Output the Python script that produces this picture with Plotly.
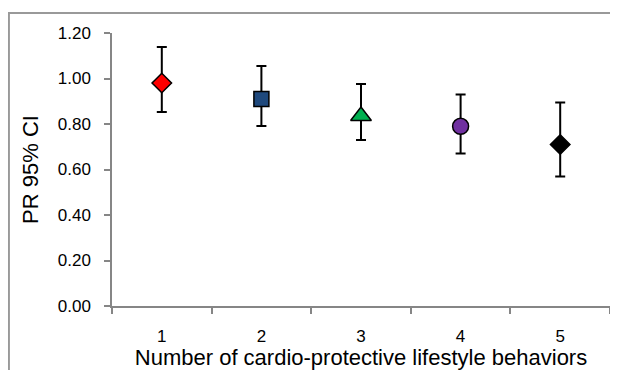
import plotly.graph_objects as go

categories = ["1", "2", "3", "4", "5"]
pr = [0.98, 0.91, 0.835, 0.79, 0.71]
ci_low = [0.853, 0.791, 0.73, 0.67, 0.569]
ci_high = [1.138, 1.055, 0.976, 0.93, 0.894]
symbols = ["diamond", "square", "triangle-up", "circle", "diamond"]
colors = ["#ff0000", "#1f497d", "#00b050", "#7030a0", "#000000"]
sizes = [15, 15, 18, 16, 15]
y_ticks = [0.0, 0.2, 0.4, 0.6, 0.8, 1.0, 1.2]
y_ticklabels = ["0.00", "0.20", "0.40", "0.60", "0.80", "1.00", "1.20"]

err_plus = [h - v for h, v in zip(ci_high, pr)]
err_minus = [v - l for l, v in zip(ci_low, pr)]

FONT = "Liberation Sans, Arial, sans-serif"

fig = go.Figure()
for i, c in enumerate(categories):
    fig.add_trace(go.Scatter(
        x=[c], y=[pr[i]], mode="markers",
        marker=dict(symbol=symbols[i], color=colors[i], size=sizes[i],
                    line=dict(color="#000000", width=1.5)),
        error_y=dict(type="data", symmetric=False, array=[err_plus[i]],
                     arrayminus=[err_minus[i]], color="#000000",
                     thickness=2, width=5),
        showlegend=False, cliponaxis=False,
    ))

fig.update_layout(
    width=602, height=362,
    margin=dict(l=104, r=0, t=25, b=64, autoexpand=False),
    paper_bgcolor="white", plot_bgcolor="white",
    font=dict(family=FONT, color="#000000"),
    xaxis=dict(
        type="category", categoryorder="array", categoryarray=categories,
        range=[-0.5, 4.5], showgrid=False, zeroline=False,
        showline=True, linecolor="#868686", linewidth=1.5,
        ticks="outside", tickson="boundaries", ticklen=6, tickcolor="#868686",
        tickwidth=1.5, tickfont=dict(size=17, family=FONT),
        ticklabelstandoff=14, automargin=False,
        title=dict(text="Number of cardio-protective lifestyle behaviors",
                   font=dict(size=22, family=FONT), standoff=0),
    ),
    yaxis=dict(
        range=[0, 1.2], tickvals=y_ticks, ticktext=y_ticklabels,
        showgrid=False, zeroline=False,
        showline=True, linecolor="#868686", linewidth=1.5,
        ticks="outside", ticklen=6, tickcolor="#868686", tickwidth=1.5,
        tickfont=dict(size=17, family=FONT), ticklabelstandoff=10,
        automargin=False,
        title=dict(text="PR 95% CI", font=dict(size=22, family=FONT), standoff=13),
    ),
    shapes=[
        dict(type="path", xref="paper", yref="paper",
             path="M -0.207,-0.6 L -0.207,1.0733 L 1.3,1.0733",
             line=dict(color="#999999", width=2),
             fillcolor="rgba(0,0,0,0)", layer="below"),
    ],
)

fig.write_html("out.html")
